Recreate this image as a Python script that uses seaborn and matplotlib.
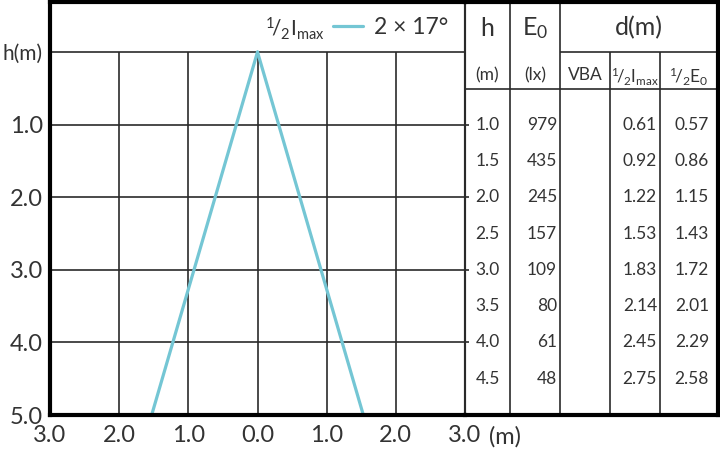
import numpy as np
import pandas as pd
import matplotlib
matplotlib.use("Agg")
import matplotlib.pyplot as plt
import seaborn as sns

# ---------------- data ----------------
heights = [1.0, 1.5, 2.0, 2.5, 3.0, 3.5, 4.0, 4.5]
e0_lux = [979, 435, 245, 157, 109, 80, 61, 48]
vba_d = ["", "", "", "", "", "", "", ""]
d_half_imax = [0.61, 0.92, 1.22, 1.53, 1.83, 2.14, 2.45, 2.75]
d_half_e0 = [0.57, 0.86, 1.15, 1.43, 1.72, 2.01, 2.29, 2.58]

cone_depth = [0.0, 5.0]
cone_half_width = [0.0, 1.53]
beam_label = "2 × 17°"

x_ticks = [-3, -2, -1, 0, 1, 2, 3]
x_tick_labels = ["3.0", "2.0", "1.0", "0.0", "1.0", "2.0", "3.0"]
y_ticks = [0, 1, 2, 3, 4, 5]
y_tick_labels = ["h(m)", "1.0", "2.0", "3.0", "4.0", "5.0"]

# ---------------- style ----------------
sns.set_theme(style="white")
plt.rcParams["font.family"] = ["Lato", "DejaVu Sans"]
plt.rcParams["mathtext.fontset"] = "custom"
plt.rcParams["mathtext.rm"] = "Lato"
plt.rcParams["mathtext.it"] = "Lato"
plt.rcParams["mathtext.bf"] = "Lato"

TXT = "#333333"
GRID = "#2a2a2a"
LINE = "#74c6d4"
THICK = 3.0
THIN = 1.2
TICKFS = 17

W, H = 720, 451
fig = plt.figure(figsize=(7.2, 4.51), dpi=100)


def frame(l, t, r, b):
    return [l / W, 1 - b / H, (r - l) / W, (b - t) / H]


ax = fig.add_axes(frame(50, 2, 465, 415))
ax_t = fig.add_axes(frame(465, 2, 718, 415), sharey=ax)

py = (415 - 52) / 5.0   # pixels per metre (vertical)
px = 415 / 6.0          # pixels per metre (horizontal)
y_top = -(52 - 2) / py

# ---------------- chart ----------------
right = pd.DataFrame({"x": cone_half_width, "h": cone_depth})
left = pd.DataFrame({"x": [-v for v in cone_half_width], "h": cone_depth})
sns.lineplot(data=right, x="x", y="h", ax=ax, color=LINE, lw=2.3,
             sort=False, estimator=None, label=beam_label)
sns.lineplot(data=left, x="x", y="h", ax=ax, color=LINE, lw=2.3,
             sort=False, estimator=None, label="_nolegend_")

ax.set_xlim(-3, 3)
ax.set_ylim(5, y_top)
for xv in x_ticks[1:-1]:
    ax.vlines(xv, 0, 5, color=GRID, lw=THIN, zorder=1)
for yv in y_ticks[:-1]:
    ax.hlines(yv, -3, 3, color=GRID, lw=THIN, zorder=1)

ax.set_xticks(x_ticks)
ax.set_xticklabels(x_tick_labels)
ax.set_yticks(y_ticks)
ax.set_yticklabels(y_tick_labels)
ax.tick_params(axis="both", length=0, labelsize=TICKFS, colors=TXT)
ax.tick_params(axis="x", pad=7)
ax.tick_params(axis="y", pad=5)
ax.get_yticklabels()[0].set_fontsize(15)
ax.set_xlabel("")
ax.set_ylabel("")
ax.text(3 + (489 - 465) / px, 5 + (437 - 415) / py, "(m)", ha="left",
        va="center", fontsize=TICKFS, color=TXT, clip_on=False)

for s in ["left", "bottom", "top"]:
    ax.spines[s].set_linewidth(THICK)
    ax.spines[s].set_color("black")
ax.spines["right"].set_linewidth(THIN * 1.3)
ax.spines["right"].set_color(GRID)

leg = ax.legend(loc="center left", bbox_to_anchor=((333 - 50) / 415, 1 - (28 - 2) / 413),
                frameon=False, fontsize=16.5, handlelength=1.3, handletextpad=0.5,
                borderpad=0, borderaxespad=0)
for t in leg.get_texts():
    t.set_color(TXT)
ax.text((324 - 257.5) / px, -(52 - 29) / py, r"$^{1}\!/_{2}\mathrm{I}_{\mathrm{max}}$",
        ha="right", va="center", fontsize=15, color=TXT)

# ---------------- table ----------------
ax_t.set_xlim(0, 253)
ax_t.patch.set_visible(False)
ax_t.tick_params(left=False, bottom=False, labelleft=False, labelbottom=False)
for s in ["right", "bottom", "top"]:
    ax_t.spines[s].set_linewidth(THICK)
    ax_t.spines[s].set_color("black")
ax_t.spines["left"].set_visible(False)

row2 = (89 - 52) / py
for xv in [45, 95]:
    ax_t.vlines(xv, y_top, 5, color=GRID, lw=THIN)
for xv in [145, 195]:
    ax_t.vlines(xv, 0, 5, color=GRID, lw=THIN)
ax_t.hlines(0, 95, 253, color=GRID, lw=THIN)
ax_t.hlines(row2, 0, 253, color=GRID, lw=THIN)
for yv in y_ticks[1:-1]:
    ax_t.hlines(yv, 0, 4, color=GRID, lw=THIN)

hy = -(52 - 28) / py
ax_t.text(22.5, hy, "h", ha="center", va="center", fontsize=18, color=TXT)
ax_t.text(70, hy, r"E$_0$", ha="center", va="center", fontsize=18, color=TXT)
ax_t.text(174, hy, "d(m)", ha="center", va="center", fontsize=18, color=TXT)
sy = (75 - 52) / py
ax_t.text(22.5, sy, "(m)", ha="center", va="center", fontsize=12.5, color=TXT)
ax_t.text(70, sy, "(lx)", ha="center", va="center", fontsize=12.5, color=TXT)
ax_t.text(120, sy, "VBA", ha="center", va="center", fontsize=12.5, color=TXT)
ax_t.text(170, sy + 0.03, r"$^{1}\!/_{2}\mathrm{I}_{\mathrm{max}}$", ha="center",
          va="center", fontsize=12, color=TXT)
ax_t.text(224, sy + 0.03, r"$^{1}\!/_{2}\mathrm{E}_{0}$", ha="center", va="center",
          fontsize=12.5, color=TXT)

for h, e, v, d1, d2 in zip(heights, e0_lux, vba_d, d_half_imax, d_half_e0):
    ax_t.text(22.5, h, f"{h:.1f}", ha="center", va="center", fontsize=12.5, color=TXT)
    ax_t.text(92, h, f"{e}", ha="right", va="center", fontsize=12.5, color=TXT)
    ax_t.text(120, h, v, ha="center", va="center", fontsize=12.5, color=TXT)
    ax_t.text(192, h, f"{d1:.2f}", ha="right", va="center", fontsize=12.5, color=TXT)
    ax_t.text(244, h, f"{d2:.2f}", ha="right", va="center", fontsize=12.5, color=TXT)

fig.savefig("out.png", dpi=100, facecolor="white")
